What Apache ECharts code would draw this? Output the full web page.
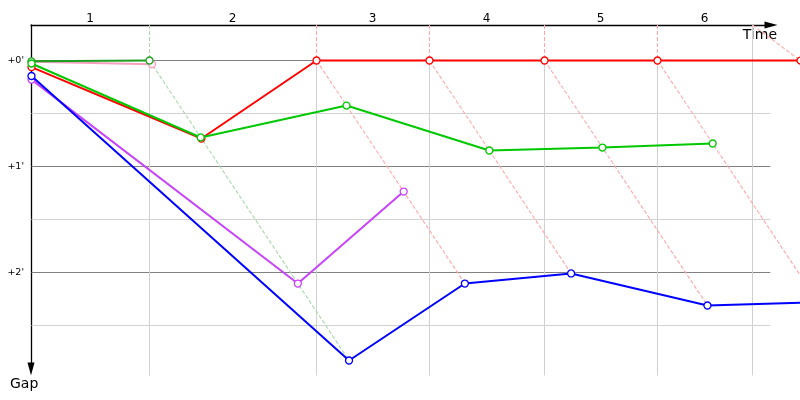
<!DOCTYPE html>
<html><head><meta charset="utf-8">
<script src="https://cdn.jsdelivr.net/npm/echarts@6/dist/echarts.min.js"></script>
<style>html,body{margin:0;padding:0;background:#fff}#c{width:800px;height:400px}</style>
</head><body><div id="c"></div>
<script>
// ---- data (minutes) ----
const lapLabels   = ['1', '2', '3', '4', '5', '6'];
const lapBounds   = [1.674, 4.043, 5.645, 7.277, 8.879, 10.227];   // lap boundaries on the time axis
const leaderTimes = [1.674, 4.043, 5.645, 7.277, 8.879, 10.908];   // leader crossing time per lap
const gapTicks    = [0, 1, 2];
const gridGaps    = [0, 0.5, 1, 1.5, 2, 2.5];

// gaps (minutes behind leader); index 0 = start, then lap 1, 2, ...
const pinkGaps      = [0.012, 0.035];
const darkGreenGaps = [0.008, 0];
const purpleGaps    = [0.180, 2.104, 1.236];
const blueGaps      = [0.146, 2.830, 2.104, 2.009, 2.311, 2.280];
const redGaps       = [0.063, 0.736, 0, 0, 0, 0, 0];
const greenGaps     = [0.028, 0.726, 0.425, 0.849, 0.821, 0.783];

const cars = [
  { gaps: pinkGaps,      color: '#f4a0bc', light: '#f9c8d8' },
  { gaps: darkGreenGaps, color: '#1e9e1e', light: '#a8d8a8' },
  { gaps: purpleGaps,    color: '#c844f8', light: '#e6b8fb' },
  { gaps: blueGaps,      color: '#0000ff', light: '#b0b0ff' },
  { gaps: redGaps,       color: '#ff0000', light: '#ffa8a8' },
  { gaps: greenGaps,     color: '#00c800', light: '#a8e0a8' }
];

const PX_X = 70.5, PX_Y = 106;                       // pixels per minute on each axis
const Y_MIN = -0.335, Y_BOTTOM = 2.972, X_GRID_END = 10.48;

function pt(i, g) { return [i === 0 ? 0 : leaderTimes[i - 1] + g, g]; }
function seg(points, color, width, type, z) {
  return { type: 'line', xAxisIndex: 1, yAxisIndex: 1, data: points, symbol: 'none', showSymbol: false,
    silent: true, clip: false, animation: false, z: z, lineStyle: { color: color, width: width, type: type } };
}

const series = [];
gridGaps.forEach(g => series.push(seg([[0, g], [X_GRID_END, g]], Number.isInteger(g) ? '#808080' : '#d2d2d2', 1, 'solid', 1)));
lapBounds.forEach((b, k) => {
  const t = leaderTimes[k];
  const sameAsLeader = Math.abs(b - t) < 1e-9;
  series.push(seg([[b, sameAsLeader ? 0 : Y_MIN], [b, Y_BOTTOM]], '#d0d0d0', 1, 'solid', 1));
  const leader = cars.find(c => c.gaps.length > k + 1 && c.gaps[k + 1] === 0);
  const light = leader ? leader.light : '#ffa8a8';
  series.push(seg([[b, Y_MIN], [t, 0]], light, 1.1, [4, 2], 2));
  let maxGap = 0;
  cars.forEach(c => { if (c.gaps.length > k + 1) maxGap = Math.max(maxGap, c.gaps[k + 1]); });
  if (maxGap > 0) series.push(seg([[t, 0], [t + maxGap, maxGap]], light, 1.1, [4, 2], 2));
});
cars.forEach((c, ci) => {
  series.push({
    type: 'line', xAxisIndex: 1, yAxisIndex: 1, data: c.gaps.map((g, i) => pt(i, g)), clip: false,
    animation: false, silent: true, symbol: 'circle', symbolSize: 7, showAllSymbol: true, z: 3 + ci,
    lineStyle: { color: c.color, width: 2 },
    itemStyle: { color: '#ffffff', borderColor: c.color, borderWidth: 1.3 }
  });
});

const lapCenters = lapBounds.map((b, k) => ((k === 0 ? 0 : lapBounds[k - 1]) + b) / 2);

// axis grid (visible axes) and data grid (same scale, larger so nothing is cut)
const AX_W = 740, AX_H = 344, DATA_W = 800, DATA_H = 375;

const chart = echarts.init(document.getElementById('c'), null, { renderer: 'canvas' });
chart.setOption({
  animation: false,
  backgroundColor: '#ffffff',
  grid: [
    { left: 31, top: 25, width: AX_W, height: AX_H, containLabel: false, outerBoundsMode: 'none' },
    { left: 31.5, top: 25, width: DATA_W, height: DATA_H, containLabel: false, outerBoundsMode: 'none' }
  ],
  xAxis: [{
    gridIndex: 0, type: 'value', position: 'top', min: 0, max: AX_W / PX_X,
    axisLine: { show: true, onZero: false, lineStyle: { color: '#000', width: 1.3 }, symbol: ['none', 'triangle'], symbolSize: [7, 13] },
    axisTick: { show: false }, splitLine: { show: false },
    axisLabel: {
      customValues: lapCenters, margin: 0, color: '#000', fontSize: 12, fontFamily: 'DejaVu Sans',
      formatter: v => { let best = 0; lapCenters.forEach((c, i) => { if (Math.abs(c - v) < Math.abs(lapCenters[best] - v)) best = i; }); return lapLabels[best]; }
    }
  }, {
    gridIndex: 1, type: 'value', min: 0, max: DATA_W / PX_X, show: false
  }],
  yAxis: [{
    gridIndex: 0, type: 'value', inverse: true, min: Y_MIN, max: Y_MIN + AX_H / PX_Y,
    axisLine: { show: true, onZero: false, lineStyle: { color: '#000', width: 1.3 }, symbol: ['triangle', 'none'], symbolSize: [7, 13] },
    axisTick: { show: false }, splitLine: { show: false },
    axisLabel: { customValues: gapTicks, margin: 7, color: '#000', fontSize: 9.5, fontFamily: 'DejaVu Sans', formatter: v => "+" + v + "'" }
  }, {
    gridIndex: 1, type: 'value', inverse: true, min: Y_MIN, max: Y_MIN + DATA_H / PX_Y, show: false
  }],
  graphic: [
    { type: 'text', right: 23, top: 28, style: { text: 'Time', fontSize: 14, fontFamily: 'DejaVu Sans', fill: '#000' } },
    { type: 'text', left: 10, top: 377, style: { text: 'Gap', fontSize: 14, fontFamily: 'DejaVu Sans', fill: '#000' } }
  ],
  series: series
});
</script></body></html>
